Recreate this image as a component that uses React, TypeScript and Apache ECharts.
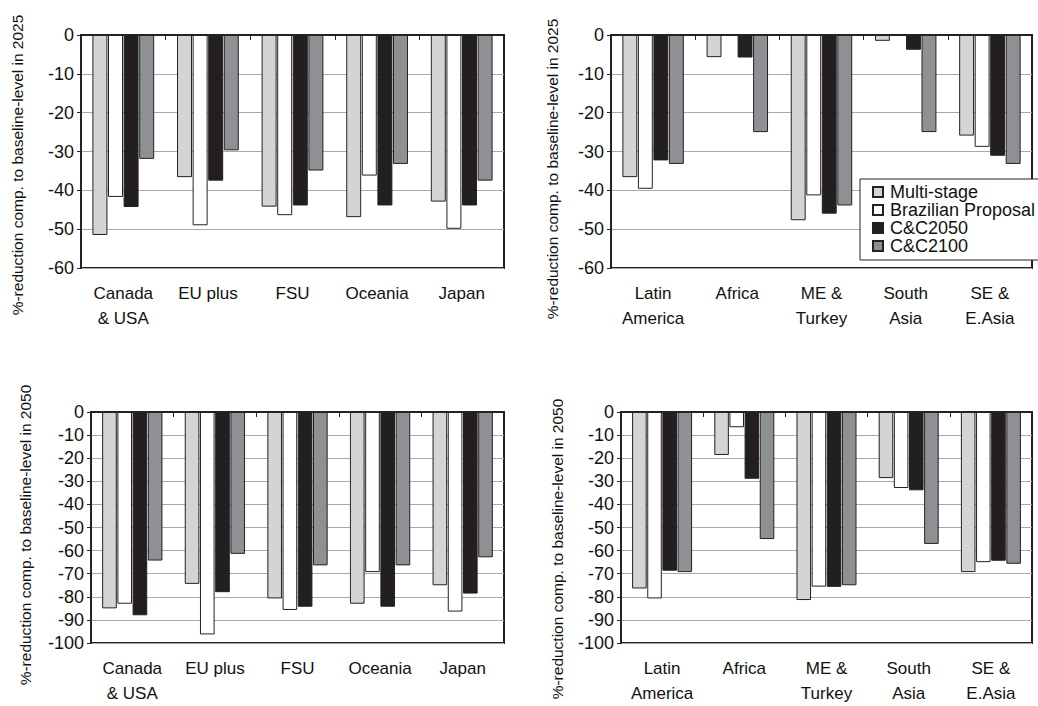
import React, { useEffect, useRef } from "react";
import * as echarts from "echarts";

const regionsA = ["Canada\n& USA", "EU plus", "FSU", "Oceania", "Japan"];
const regionsB = ["Latin\nAmerica", "Africa", "ME &\nTurkey", "South\nAsia", "SE &\nE.Asia"];
const seriesNames = ["Multi-stage", "Brazilian Proposal", "C&C2050", "C&C2100"];
const yTitle2025 = "%-reduction comp. to baseline-level in 2025";
const yTitle2050 = "%-reduction comp. to baseline-level in 2050";

// 2025, industrialised regions
const a2025Multi = [-51.5, -36.6, -44.2, -46.9, -42.9];
const a2025Braz = [-41.7, -49.0, -46.4, -36.2, -49.9];
const a2025CC2050 = [-44.3, -37.5, -43.9, -43.9, -43.9];
const a2025CC2100 = [-31.9, -29.7, -34.9, -33.2, -37.5];

// 2025, developing regions
const b2025Multi = [-36.6, -5.7, -47.7, -1.5, -25.9];
const b2025Braz = [-39.6, 0, -41.3, 0, -28.8];
const b2025CC2050 = [-32.3, -5.8, -46.0, -3.8, -31.1];
const b2025CC2100 = [-33.2, -25.0, -43.9, -25.0, -33.2];

// 2050, industrialised regions
const a2050Multi = [-85.0, -74.4, -80.7, -83.0, -75.0];
const a2050Braz = [-83.0, -96.3, -85.7, -69.3, -86.4];
const a2050CC2050 = [-88.0, -78.0, -84.3, -84.3, -78.6];
const a2050CC2100 = [-64.3, -61.4, -66.4, -66.4, -62.9];

// 2050, developing regions
const b2050Multi = [-76.4, -18.6, -81.4, -28.6, -69.3];
const b2050Braz = [-80.7, -6.6, -75.6, -32.9, -65.0];
const b2050CC2050 = [-68.7, -28.9, -75.7, -33.9, -64.4];
const b2050CC2100 = [-69.3, -55.0, -75.0, -57.1, -65.7];

const FONT = "'Liberation Sans', Arial, sans-serif";
const COLORS = ["#d3d4d6", "#ffffff", "#231f20", "#8f9093"];
const DARK = "#222";

export default function App() {
  const ref = useRef<HTMLDivElement>(null);

  useEffect(() => {
    document.body.style.margin = "0";
    const chart = echarts.init(ref.current!, null, { renderer: "svg" });

    const panels = [
      { cats: regionsA, min: -60, data: [a2025Multi, a2025Braz, a2025CC2050, a2025CC2100], grid: { left: 81, right: 534, top: 35, height: 233 } },
      { cats: regionsB, min: -60, data: [b2025Multi, b2025Braz, b2025CC2050, b2025CC2100], grid: { left: 611, right: 6, top: 35, height: 233 } },
      { cats: regionsA, min: -100, data: [a2050Multi, a2050Braz, a2050CC2050, a2050CC2100], grid: { left: 91, right: 534, top: 412, height: 234 } },
      { cats: regionsB, min: -100, data: [b2050Multi, b2050Braz, b2050CC2050, b2050CC2100], grid: { left: 621, right: 6, top: 412, height: 234 } },
    ];

    const grids: any[] = [];
    const xAxes: any[] = [];
    const yAxes: any[] = [];
    const series: any[] = [];

    panels.forEach((p, i) => {
      grids.push({ ...p.grid, show: true, borderColor: DARK, borderWidth: 2, backgroundColor: "transparent" });
      xAxes.push({
        type: "category",
        gridIndex: i,
        position: "bottom",
        data: p.cats,
        axisLine: { show: false },
        axisTick: { show: false },
        axisLabel: {
          color: "#111",
          fontFamily: FONT,
          fontSize: 17,
          lineHeight: 25,
          margin: 13,
          verticalAlign: "top",
          interval: 0,
        },
      });
      xAxes.push({
        type: "category",
        gridIndex: i,
        position: "top",
        data: p.cats,
        axisLine: { show: true, onZero: false, lineStyle: { color: DARK, width: 2 } },
        axisTick: { show: true, inside: true, length: 5, lineStyle: { color: DARK, width: 1 } },
        axisLabel: { show: false },
        z: 10,
      });
      yAxes.push({
        type: "value",
        gridIndex: i,
        min: p.min,
        max: 0,
        interval: 10,
        axisLine: { show: true, lineStyle: { color: DARK, width: 2 } },
        axisTick: { show: true, length: 4, lineStyle: { color: DARK } },
        axisLabel: { color: "#111", fontFamily: FONT, fontSize: 18, margin: 7 },
        splitLine: { show: true, lineStyle: { color: "#a9a9a9", width: 1 } },
      });
      p.data.forEach((vals, k) => {
        series.push({
          type: "bar",
          name: seriesNames[k],
          xAxisIndex: i * 2,
          yAxisIndex: i,
          data: vals,
          barCategoryGap: "27%",
          barGap: "4%",
          itemStyle: { color: COLORS[k], borderColor: DARK, borderWidth: 1 },
          emphasis: { disabled: true },
        });
      });
    });

    const titleStyle = { fill: "#111", font: `15.5px ${FONT}`, align: "center", verticalAlign: "middle" };
    const titles = [
      { x: 17, y: 165, text: yTitle2025 },
      { x: 552, y: 169, text: yTitle2025 },
      { x: 25, y: 535, text: yTitle2050 },
      { x: 557, y: 549, text: yTitle2050 },
    ];

    chart.setOption({
      animation: false,
      backgroundColor: "#fff",
      textStyle: { fontFamily: FONT },
      grid: grids,
      xAxis: xAxes,
      yAxis: yAxes,
      series,
      legend: {
        left: 860,
        top: 179,
        orient: "vertical",
        selectedMode: false,
        icon: "rect",
        itemWidth: 10,
        itemHeight: 10,
        itemGap: 0,
        padding: [4, 10, 5, 12],
        backgroundColor: "#fff",
        borderColor: DARK,
        borderWidth: 1,
        textStyle: { color: "#111", fontFamily: FONT, fontSize: 18, lineHeight: 16, padding: [0, 0, 0, 2] },
        data: seriesNames,
        z: 20,
      },
      graphic: titles.map((t) => ({
        type: "text",
        x: t.x,
        y: t.y,
        rotation: Math.PI / 2,
        style: { ...titleStyle, text: t.text },
      })),
    });

    return () => chart.dispose();
  }, []);

  return <div ref={ref} style={{ width: 1038, height: 706 }} />;
}
